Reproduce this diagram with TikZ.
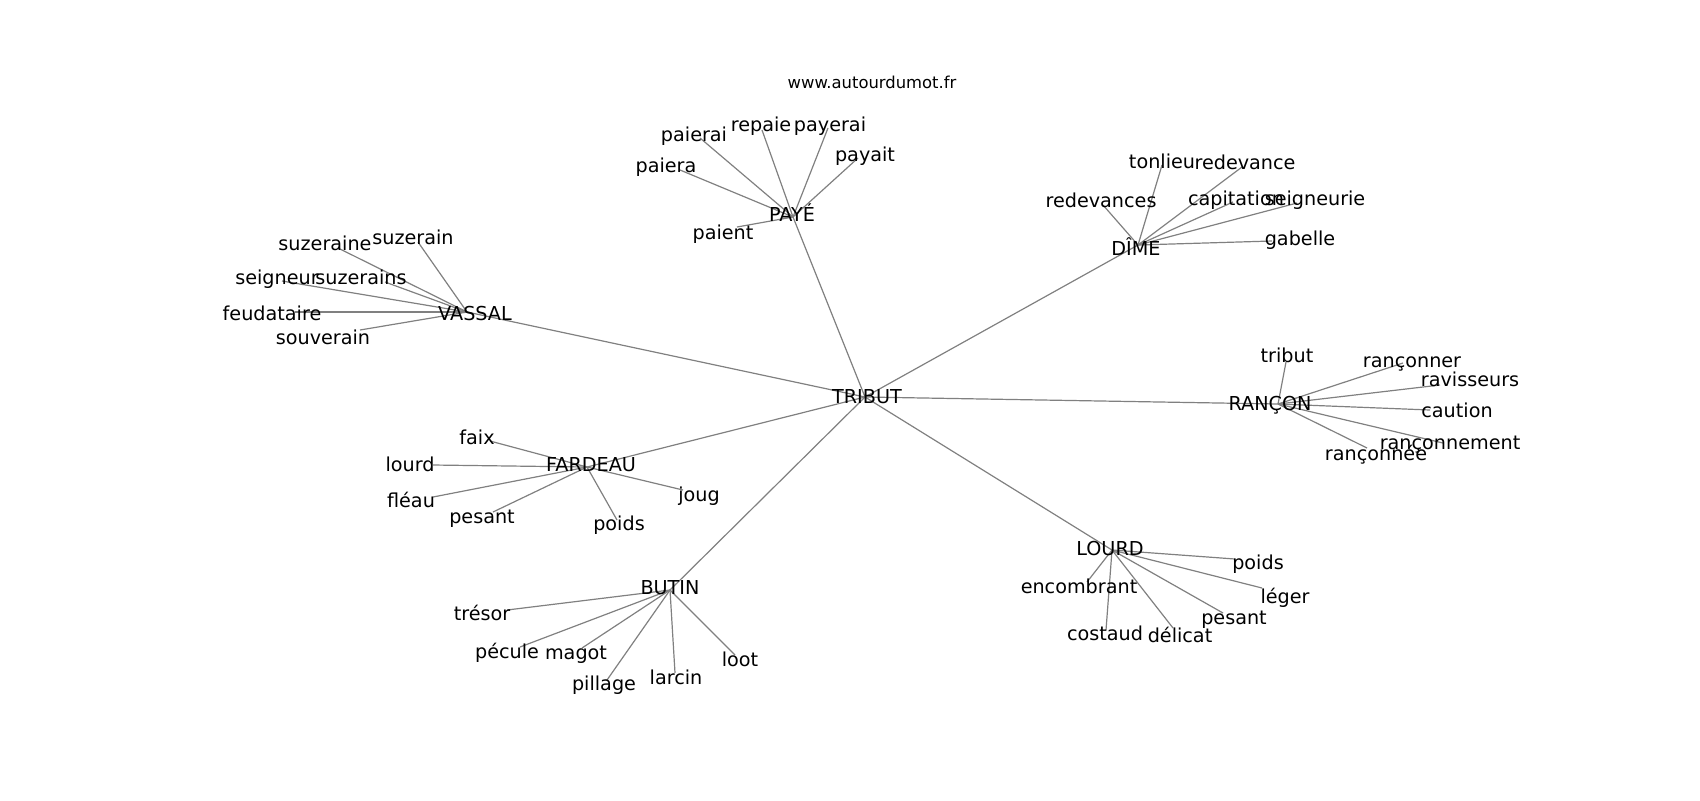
\documentclass[tikz,border=0pt]{standalone}
\usepackage{fontspec}
\setmainfont{DejaVu Sans}
\definecolor{edgegray}{HTML}{808080}
\tikzset{
  lbl/.style={font=\fontsize{9.6}{11}\selectfont, inner sep=0pt, text height=7pt, text depth=0pt, anchor=center},
  ttl/.style={font=\fontsize{8.2}{10}\selectfont, inner sep=0pt, text height=6pt, text depth=0pt, anchor=center},
  edge/.style={draw=edgegray, line width=0.6pt}
}
\begin{document}
\begin{tikzpicture}[x=0.5pt,y=-0.5pt]
\useasboundingbox (0,0) rectangle (1700,800);
% hub points
\coordinate (tribut) at (865,397);
\coordinate (paye) at (793,217);
\coordinate (dime) at (1138,245);
\coordinate (vassal) at (467,312);
\coordinate (rancon) at (1278,404);
\coordinate (fardeau) at (587,467);
\coordinate (butin) at (670,590);
\coordinate (lourd) at (1112,550);
% leaf points
\coordinate (paierai) at (700,138);
\coordinate (repaie) at (762,130);
\coordinate (payerai) at (828,128);
\coordinate (payait) at (858,158);
\coordinate (paiera) at (680,170);
\coordinate (paient) at (737,227);
\coordinate (tonlieu) at (1162,165);
\coordinate (redevance) at (1242,167);
\coordinate (redevances) at (1103,205);
\coordinate (capitation) at (1233,202);
\coordinate (seigneurie) at (1297,203);
\coordinate (gabelle) at (1272,241);
\coordinate (suzeraine) at (338,248);
\coordinate (suzerain) at (418,242);
\coordinate (seigneur) at (282,281);
\coordinate (suzerains) at (385,282);
\coordinate (feudataire) at (295,312);
\coordinate (souverain) at (360,330);
\coordinate (tributr) at (1286,362);
\coordinate (ranconner) at (1403,363);
\coordinate (ravisseurs) at (1440,385);
\coordinate (caution) at (1430,410);
\coordinate (ranconnement) at (1443,443);
\coordinate (ranconnee) at (1367,448);
\coordinate (faix) at (490,441);
\coordinate (lourdf) at (433,465);
\coordinate (fleau) at (433,497);
\coordinate (pesantf) at (493,512);
\coordinate (poidsf) at (617,520);
\coordinate (joug) at (683,490);
\coordinate (tresor) at (507,610);
\coordinate (pecule) at (520,647);
\coordinate (magot) at (582,648);
\coordinate (pillage) at (607,680);
\coordinate (larcin) at (675,673);
\coordinate (loot) at (735,655);
\coordinate (poidsl) at (1235,559);
\coordinate (leger) at (1262,588);
\coordinate (encombrant) at (1087,582);
\coordinate (pesantl) at (1223,613);
\coordinate (costaud) at (1106,630);
\coordinate (delicat) at (1173,628);
% edges
\foreach \h in {paye,dime,vassal,rancon,fardeau,butin,lourd} \draw[edge] (tribut) -- (\h);
\foreach \l in {paierai,repaie,payerai,payait,paiera,paient} \draw[edge] (paye) -- (\l);
\foreach \l in {tonlieu,redevance,redevances,capitation,seigneurie,gabelle} \draw[edge] (dime) -- (\l);
\foreach \l in {suzeraine,suzerain,seigneur,suzerains,feudataire,souverain} \draw[edge] (vassal) -- (\l);
\foreach \l in {tributr,ranconner,ravisseurs,caution,ranconnement,ranconnee} \draw[edge] (rancon) -- (\l);
\foreach \l in {faix,lourdf,fleau,pesantf,poidsf,joug} \draw[edge] (fardeau) -- (\l);
\foreach \l in {tresor,pecule,magot,pillage,larcin,loot} \draw[edge] (butin) -- (\l);
\foreach \l in {poidsl,leger,encombrant,pesantl,costaud,delicat} \draw[edge] (lourd) -- (\l);
% title
\node[ttl] (title) at (872,82) {www.autourdumot.fr};
% hub labels
\node[lbl] (Ltribut) at (867,396) {TRIBUT};
\node[lbl] (Lpaye) at (792,214) {PAYÉ};
\node[lbl] (Ldime) at (1136,248) {DÎME};
\node[lbl] (Lvassal) at (475,313) {VASSAL};
\node[lbl] (Lrancon) at (1270,403) {RANÇON};
\node[lbl] (Lfardeau) at (591,464) {FARDEAU};
\node[lbl] (Lbutin) at (670,587) {BUTIN};
\node[lbl] (Llourd) at (1110,548) {LOURD};
% leaf labels
\node[lbl] (Lpaierai) at (694,134) {paierai};
\node[lbl] (Lrepaie) at (761,124) {repaie};
\node[lbl] (Lpayerai) at (830,124) {payerai};
\node[lbl] (Lpayait) at (865,154) {payait};
\node[lbl] (Lpaiera) at (666,165) {paiera};
\node[lbl] (Lpaient) at (723,232) {paient};
\node[lbl] (Ltonlieu) at (1162,161) {tonlieu};
\node[lbl] (Lredevance) at (1245,162) {redevance};
\node[lbl] (Lredevances) at (1101,200) {redevances};
\node[lbl] (Lcapitation) at (1236,198) {capitation};
\node[lbl] (Lseigneurie) at (1315,198) {seigneurie};
\node[lbl] (Lgabelle) at (1300,238) {gabelle};
\node[lbl] (Lsuzeraine) at (325,243) {suzeraine};
\node[lbl] (Lsuzerain) at (413,237) {suzerain};
\node[lbl] (Lseigneur) at (277,277) {seigneur};
\node[lbl] (Lsuzerains) at (361,277) {suzerains};
\node[lbl] (Lfeudataire) at (272,313) {feudataire};
\node[lbl] (Lsouverain) at (323,337) {souverain};
\node[lbl] (Ltributr) at (1287,355) {tribut};
\node[lbl] (Lranconner) at (1412,360) {rançonner};
\node[lbl] (Lravisseurs) at (1470,379) {ravisseurs};
\node[lbl] (Lcaution) at (1457,410) {caution};
\node[lbl] (Lranconnement) at (1450,442) {rançonnement};
\node[lbl] (Lranconnee) at (1376,453) {rançonnée};
\node[lbl] (Lfaix) at (477,437) {faix};
\node[lbl] (Llourdf) at (410,464) {lourd};
\node[lbl] (Lfleau) at (411,500) {fléau};
\node[lbl] (Lpesantf) at (482,516) {pesant};
\node[lbl] (Lpoidsf) at (619,523) {poids};
\node[lbl] (Ljoug) at (699,494) {joug};
\node[lbl] (Ltresor) at (482,613) {trésor};
\node[lbl] (Lpecule) at (507,651) {pécule};
\node[lbl] (Lmagot) at (576,652) {magot};
\node[lbl] (Lpillage) at (604,683) {pillage};
\node[lbl] (Llarcin) at (676,677) {larcin};
\node[lbl] (Lloot) at (740,659) {loot};
\node[lbl] (Lpoidsl) at (1258,562) {poids};
\node[lbl] (Lleger) at (1285,596) {léger};
\node[lbl] (Lencombrant) at (1079,586) {encombrant};
\node[lbl] (Lpesantl) at (1234,617) {pesant};
\node[lbl] (Lcostaud) at (1105,633) {costaud};
\node[lbl] (Ldelicat) at (1180,635) {délicat};
\end{tikzpicture}
\end{document}
